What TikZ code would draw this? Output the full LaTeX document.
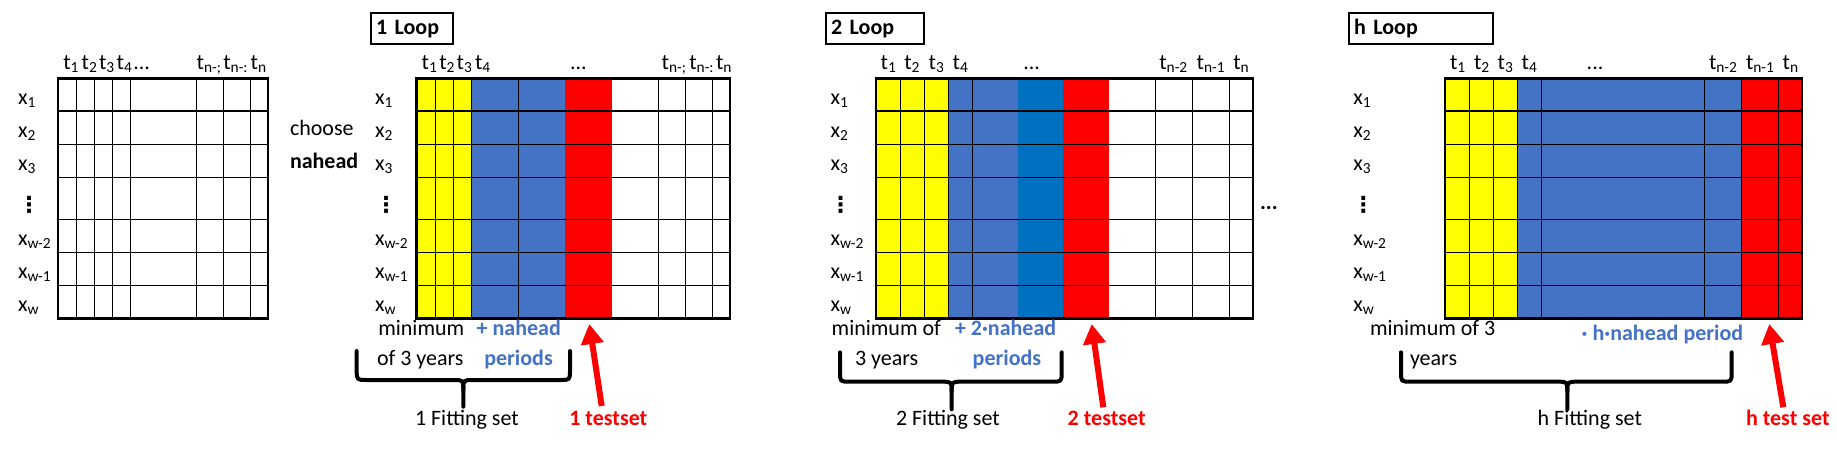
\documentclass[tikz,border=0pt]{standalone}
\usepackage{fontspec}
\setmainfont{Carlito}
\newfontfamily\dejavu{DejaVu Sans}
\usetikzlibrary{arrows.meta}
\definecolor{cyel}{HTML}{FFFF00}
\definecolor{cblue}{HTML}{4472C4}
\definecolor{cdblue}{HTML}{0070C0}
\definecolor{cred}{HTML}{FF0000}
\definecolor{ctblue}{HTML}{4472C4}

\newcommand{\mygrid}[3]{%
  \foreach \yy in {111,144.3,177.5,219.3,252.3,285.5} \draw[gridline] (#1,\yy) -- (#2,\yy);
  \foreach \xx in {#3} \draw[gridline] (\xx,78.3) -- (\xx,318.3);
  \draw[outerline] (#1,78.3) rectangle (#2,318.3);
}
\newcommand{\rowlabs}[3]{%
  \node[anchor=base west] (#1x1) at (#2,104) {x\textsubscript{1}};
  \node[anchor=base west] (#1x2) at (#2,137.3) {x\textsubscript{2}};
  \node[anchor=base west] (#1x3) at (#2,170.5) {x\textsubscript{3}};
  \node (#1xd) at (#3,205) {\dejavu\bfseries ⋮};
  \node[anchor=base west] (#1xw2) at (#2,245.3) {x\textsubscript{w-2}};
  \node[anchor=base west] (#1xw1) at (#2,278.5) {x\textsubscript{w-1}};
  \node[anchor=base west] (#1xw) at (#2,311.3) {x\textsubscript{w}};
}
\newcommand{\tlab}[3]{\node[anchor=base west] (#1) at (#2,69.5) {#3};}
\newcommand{\mybrace}[6]{%
  \draw[bracestyle] (#1,#3) -- (#1,#4-10) .. controls (#1,#4) .. (#1+10,#4) -- (#5-10,#4) .. controls (#5,#4) .. (#5,#4+10) -- (#5,#6);
  \draw[bracestyle] (#2,#3) -- (#2,#4-10) .. controls (#2,#4) .. (#2-10,#4) -- (#5+10,#4) .. controls (#5,#4) .. (#5,#4+10);
}

\begin{document}
\begin{tikzpicture}[x=1pt,y=-1pt,
  font=\fontsize{22}{26}\selectfont,
  every node/.style={inner sep=0pt,outer sep=0pt},
  gridline/.style={line width=1.1pt},
  outerline/.style={line width=2.6pt},
  titlebox/.style={draw,line width=2pt,inner xsep=5.5pt,minimum height=30.7pt,align=left,anchor=north west,font=\fontsize{22}{26}\selectfont\bfseries},
  bluetxt/.style={text=ctblue,font=\fontsize{22}{26}\selectfont\bfseries},
  redtxt/.style={text=cred,font=\fontsize{22}{26}\selectfont\bfseries},
  bracestyle/.style={line width=4pt,line join=round,line cap=round},
  redarrow/.style={draw=cred,line width=6pt,-{Triangle[length=20pt,width=22pt]}}]
\useasboundingbox (0,0) rectangle (1837,458);
\fill[white] (0,0) rectangle (1837,458);

% ---------- grid 0 ----------
\mygrid{58}{268}{76.7,94.7,112.3,130.3,196.3,223.3,250.7}
\rowlabs{g0}{18}{29}
\tlab{g0t1}{63.3}{t\textsubscript{1}}
\tlab{g0t2}{81.7}{t\textsubscript{2}}
\tlab{g0t3}{99}{t\textsubscript{3}}
\tlab{g0t4}{116.7}{t\textsubscript{4}}
\tlab{g0td}{133.3}{...}
\tlab{g0ta}{196.7}{t\textsubscript{n-;}}
\tlab{g0tb}{223.3}{t\textsubscript{n-:}}
\tlab{g0tc}{250.7}{t\textsubscript{n}}

% ---------- grid 1 ----------
\node[titlebox,text width=71.6pt] (loop1) at (370.7,13.3) {1 Loop};
\node[anchor=base west] (choose) at (290,135) {choose};
\node[anchor=base west,font=\fontsize{22}{26}\selectfont\bfseries] (nahead) at (290,168) {nahead};
\fill[cyel] (416.7,78.3) rectangle (471.3,318.3);
\fill[cblue] (471.3,78.3) rectangle (565,318.3);
\fill[cred] (565,78.3) rectangle (611.7,318.3);
\mygrid{416.7}{730}{435.7,453.3,471.3,518.3,658.3,685.7,712.7}
\rowlabs{g1}{375}{386}
\tlab{g1t1}{421.7}{t\textsubscript{1}}
\tlab{g1t2}{439.3}{t\textsubscript{2}}
\tlab{g1t3}{456.7}{t\textsubscript{3}}
\tlab{g1t4}{475}{t\textsubscript{4}}
\tlab{g1td}{570}{...}
\tlab{g1ta}{661.7}{t\textsubscript{n-;}}
\tlab{g1tb}{689.3}{t\textsubscript{n-:}}
\tlab{g1tc}{716}{t\textsubscript{n}}
\node[anchor=base west] (min1) at (378.3,335) {minimum};
\node[anchor=base west,bluetxt] (nah1) at (476.7,335) {+ nahead};
\node[anchor=base west] (yrs1) at (377,365) {of 3 years};
\node[anchor=base west,bluetxt] (per1) at (484.3,365) {periods};
\mybrace{356.7}{570}{351}{380}{463.3}{406.7}
\node[anchor=base west] (fit1) at (415,425) {1 Fitting set};
\node[anchor=base west,redtxt] (test1) at (569.3,425) {1 testset};
\coordinate (a1s) at (601.7,406);
\coordinate (a1e) at (589.3,324);
\draw[redarrow] (a1s) -- (a1e);

% ---------- grid 2 ----------
\node[titlebox,text width=87.6pt] (loop2) at (825.7,13.3) {2 Loop};
\fill[cyel] (876,78.3) rectangle (948.3,318.3);
\fill[cblue] (948.3,78.3) rectangle (1018.3,318.3);
\fill[cdblue] (1018.3,78.3) rectangle (1063.3,318.3);
\fill[cred] (1063.3,78.3) rectangle (1109,318.3);
\mygrid{876}{1253}{900.3,924.3,948.3,972.3,1155.5,1192.5,1229.3}
\rowlabs{g2}{830.7}{840.7}
\tlab{g2t1}{880.7}{t\textsubscript{1}}
\tlab{g2t2}{904.3}{t\textsubscript{2}}
\tlab{g2t3}{928.7}{t\textsubscript{3}}
\tlab{g2t4}{952.7}{t\textsubscript{4}}
\tlab{g2td}{1023.3}{...}
\tlab{g2ta}{1159.3}{t\textsubscript{n-2}}
\tlab{g2tb}{1196.7}{t\textsubscript{n-1}}
\tlab{g2tc}{1233.3}{t\textsubscript{n}}
\node[anchor=base west] (min2) at (831.7,335) {minimum of};
\node[anchor=base west,bluetxt] (nah2) at (955,335) {+ 2·nahead};
\node[anchor=base west] (yrs2) at (855,365) {3 years};
\node[anchor=base west,bluetxt] (per2) at (972.7,365) {periods};
\mybrace{840}{1061.7}{352.3}{381.7}{951.7}{409.3}
\node[anchor=base west] (fit2) at (896,425) {2 Fitting set};
\node[anchor=base west,redtxt] (test2) at (1067.7,425) {2 testset};
\coordinate (a2s) at (1103.3,407.3);
\coordinate (a2e) at (1091.7,324);
\draw[redarrow] (a2s) -- (a2e);

\node[anchor=base west,font=\fontsize{22}{26}\selectfont\bfseries] (gap) at (1260,209) {...};

% ---------- grid 3 ----------
\node[titlebox,text width=133.6pt] (loop3) at (1348.7,13.3) {h Loop};
\fill[cyel] (1445,78.3) rectangle (1517.3,318.3);
\fill[cblue] (1517.3,78.3) rectangle (1741.7,318.3);
\fill[cred] (1741.7,78.3) rectangle (1802,318.3);
\mygrid{1445}{1802}{1469.3,1493.3,1517.3,1541.3,1704.3,1741.7,1778.7}
\rowlabs{g3}{1353.3}{1363.3}
\tlab{g3t1}{1450}{t\textsubscript{1}}
\tlab{g3t2}{1474}{t\textsubscript{2}}
\tlab{g3t3}{1497.7}{t\textsubscript{3}}
\tlab{g3t4}{1521.7}{t\textsubscript{4}}
\tlab{g3td}{1586.7}{...}
\tlab{g3ta}{1709}{t\textsubscript{n-2}}
\tlab{g3tb}{1746}{t\textsubscript{n-1}}
\tlab{g3tc}{1782.7}{t\textsubscript{n}}
\node[anchor=base west] (min3) at (1370,335) {minimum of 3};
\node[anchor=base west,bluetxt] (nah3) at (1581.7,340.7) {· h·nahead period};
\node[anchor=base west] (yrs3) at (1410,365) {years};
\mybrace{1401}{1731.7}{352.3}{381.7}{1567.3}{409.3}
\node[anchor=base west] (fit3) at (1537.7,425) {h Fitting set};
\node[anchor=base west,redtxt] (test3) at (1746,425) {h test set};
\coordinate (a3s) at (1783.3,407.3);
\coordinate (a3e) at (1769.3,324);
\draw[redarrow] (a3s) -- (a3e);
\end{tikzpicture}
\end{document}
